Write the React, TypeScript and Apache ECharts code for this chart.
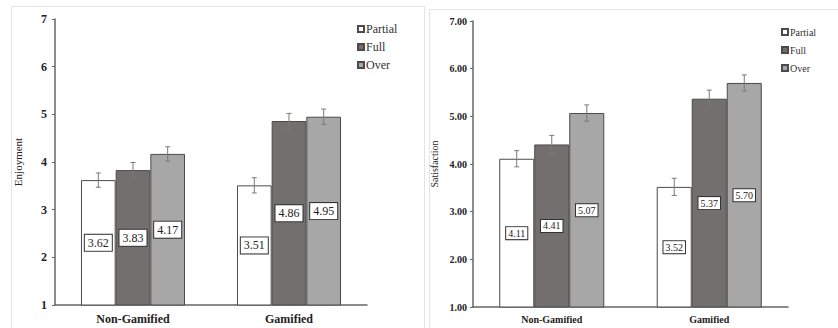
import React, { useEffect, useRef } from "react";
import * as echarts from "echarts";

const categories = ["Non-Gamified", "Gamified"];
const seriesNames = ["Partial", "Full", "Over"];

const enjoyPartial = [3.62, 3.51];
const enjoyFull = [3.83, 4.86];
const enjoyOver = [4.17, 4.95];
const enjoyErrPartial = [0.15, 0.16];
const enjoyErrFull = [0.16, 0.16];
const enjoyErrOver = [0.15, 0.16];

const satPartial = [4.11, 3.52];
const satFull = [4.41, 5.37];
const satOver = [5.07, 5.7];
const satErrPartial = [0.17, 0.18];
const satErrFull = [0.19, 0.18];
const satErrOver = [0.17, 0.17];

const yTicksLeft = [1, 2, 3, 4, 5, 6, 7];
const yTicksRight = [1, 2, 3, 4, 5, 6, 7];

const colors = ["#ffffff", "#736f6f", "#a7a7a7"];
const SERIF = "Times New Roman, DejaVu Serif, serif";
const GAP = 0.333;

export default function App() {
  const ref = useRef<HTMLDivElement>(null);

  useEffect(() => {
    if (!ref.current) return;
    const chart = echarts.init(ref.current, undefined, { renderer: "svg" });

    const groups = [
      {
        vals: [enjoyPartial, enjoyFull, enjoyOver],
        errs: [enjoyErrPartial, enjoyErrFull, enjoyErrOver],
        labelSize: 12,
      },
      {
        vals: [satPartial, satFull, satOver],
        errs: [satErrPartial, satErrFull, satErrOver],
        labelSize: 10,
      },
    ];

    const series: any[] = [];
    groups.forEach((g, gi) => {
      g.vals.forEach((vals, si) => {
        series.push({
          type: "bar",
          name: seriesNames[si],
          xAxisIndex: gi,
          yAxisIndex: gi,
          data: vals,
          barGap: "0%",
          barCategoryGap: "33.3%",
          itemStyle: { color: colors[si], borderColor: "#4a4a4a", borderWidth: 1 },
          label: {
            show: true,
            position: "inside",
            formatter: (p: any) => Number(p.value).toFixed(2),
            backgroundColor: "#ffffff",
            borderColor: "#333333",
            borderWidth: 1,
            padding: gi === 0 ? [2, 3] : [1, 2],
            fontFamily: SERIF,
            fontSize: g.labelSize,
            color: "#222222",
          },
        });
      });
      g.vals.forEach((vals, si) => {
        const data = vals.map((v, ci) => [ci, v - g.errs[si][ci], v + g.errs[si][ci]]);
        series.push({
          type: "custom",
          name: "err" + gi + si,
          xAxisIndex: gi,
          yAxisIndex: gi,
          z: 10,
          encode: { x: 0, y: [1, 2] },
          data,
          renderItem: (params: any, api: any) => {
            const ci = api.value(0);
            const lo = api.coord([ci, api.value(1)]);
            const hi = api.coord([ci, api.value(2)]);
            const catW = api.size([1, 0])[0];
            const bw = (catW * (1 - GAP)) / 3;
            const x = lo[0] + (si - 1) * bw;
            const cap = 2.5;
            const st = { stroke: "#7a7a7a", lineWidth: 1 };
            return {
              type: "group",
              children: [
                { type: "line", shape: { x1: x, y1: lo[1], x2: x, y2: hi[1] }, style: st },
                { type: "line", shape: { x1: x - cap, y1: lo[1], x2: x + cap, y2: lo[1] }, style: st },
                { type: "line", shape: { x1: x - cap, y1: hi[1], x2: x + cap, y2: hi[1] }, style: st },
              ],
            };
          },
        });
      });
    });

    const axisLine = { show: true, lineStyle: { color: "#666666", width: 1.5 } };

    const option: any = {
      animation: false,
      backgroundColor: "#ffffff",
      textStyle: { fontFamily: SERIF },
      graphic: [
        {
          type: "rect",
          shape: { x: 11.5, y: 6.5, width: 413, height: 340 },
          style: { fill: "none", stroke: "#e4e4e4", lineWidth: 1 },
          silent: true,
        },
        {
          type: "rect",
          shape: { x: 429.5, y: 9.5, width: 420, height: 340 },
          style: { fill: "none", stroke: "#e4e4e4", lineWidth: 1 },
          silent: true,
        },
      ],
      legend: [
        {
          data: seriesNames,
          orient: "vertical",
          left: 352,
          top: 18,
          itemWidth: 6,
          itemHeight: 6,
          itemGap: 6,
          icon: "rect",
          textStyle: { fontFamily: SERIF, fontSize: 12, color: "#333333", lineHeight: 12, padding: [0, 0, 0, -3] },
          selectedMode: false,
        },
        {
          data: seriesNames,
          orient: "vertical",
          left: 776,
          top: 21,
          itemWidth: 6,
          itemHeight: 6,
          itemGap: 6,
          icon: "rect",
          textStyle: { fontFamily: SERIF, fontSize: 10, color: "#333333", lineHeight: 12, padding: [0, 0, 0, -3] },
          selectedMode: false,
        },
      ],
      grid: [
        { left: 55, right: 471, top: 19, bottom: 23 },
        { left: 473, right: 50, top: 21, bottom: 21 },
      ],
      xAxis: [0, 1].map((gi) => ({
        type: "category",
        gridIndex: gi,
        data: categories,
        axisLine,
        axisTick: { show: false },
        axisLabel: {
          fontFamily: SERIF,
          fontSize: gi === 0 ? 12 : 10,
          fontWeight: "bold",
          color: "#222222",
          margin: gi === 0 ? 8 : 7,
        },
      })),
      yAxis: [0, 1].map((gi) => {
        const ticks = gi === 0 ? yTicksLeft : yTicksRight;
        return {
          type: "value",
          gridIndex: gi,
          min: ticks[0],
          max: ticks[ticks.length - 1],
          interval: 1,
          name: gi === 0 ? "Enjoyment" : "Satisfaction",
          nameLocation: "middle",
          nameGap: gi === 0 ? 32 : 34,
          nameRotate: 90,
          nameTextStyle: { fontFamily: SERIF, fontSize: gi === 0 ? 11 : 10, color: "#222222" },
          axisLine,
          axisTick: { show: true, length: 3, lineStyle: { color: "#666666" } },
          splitLine: { show: false },
          axisLabel: {
            fontFamily: SERIF,
            fontSize: gi === 0 ? 12 : 10,
            fontWeight: "bold",
            color: "#222222",
            margin: gi === 0 ? 8 : 6,
            formatter: (v: number) => (gi === 0 ? String(v) : v.toFixed(2)),
          },
        };
      }),
      series,
    };

    chart.setOption(option);
    return () => chart.dispose();
  }, []);

  return (
    <div
      ref={ref}
      style={{ position: "fixed", left: 0, top: 0, width: 838, height: 328 }}
    />
  );
}
